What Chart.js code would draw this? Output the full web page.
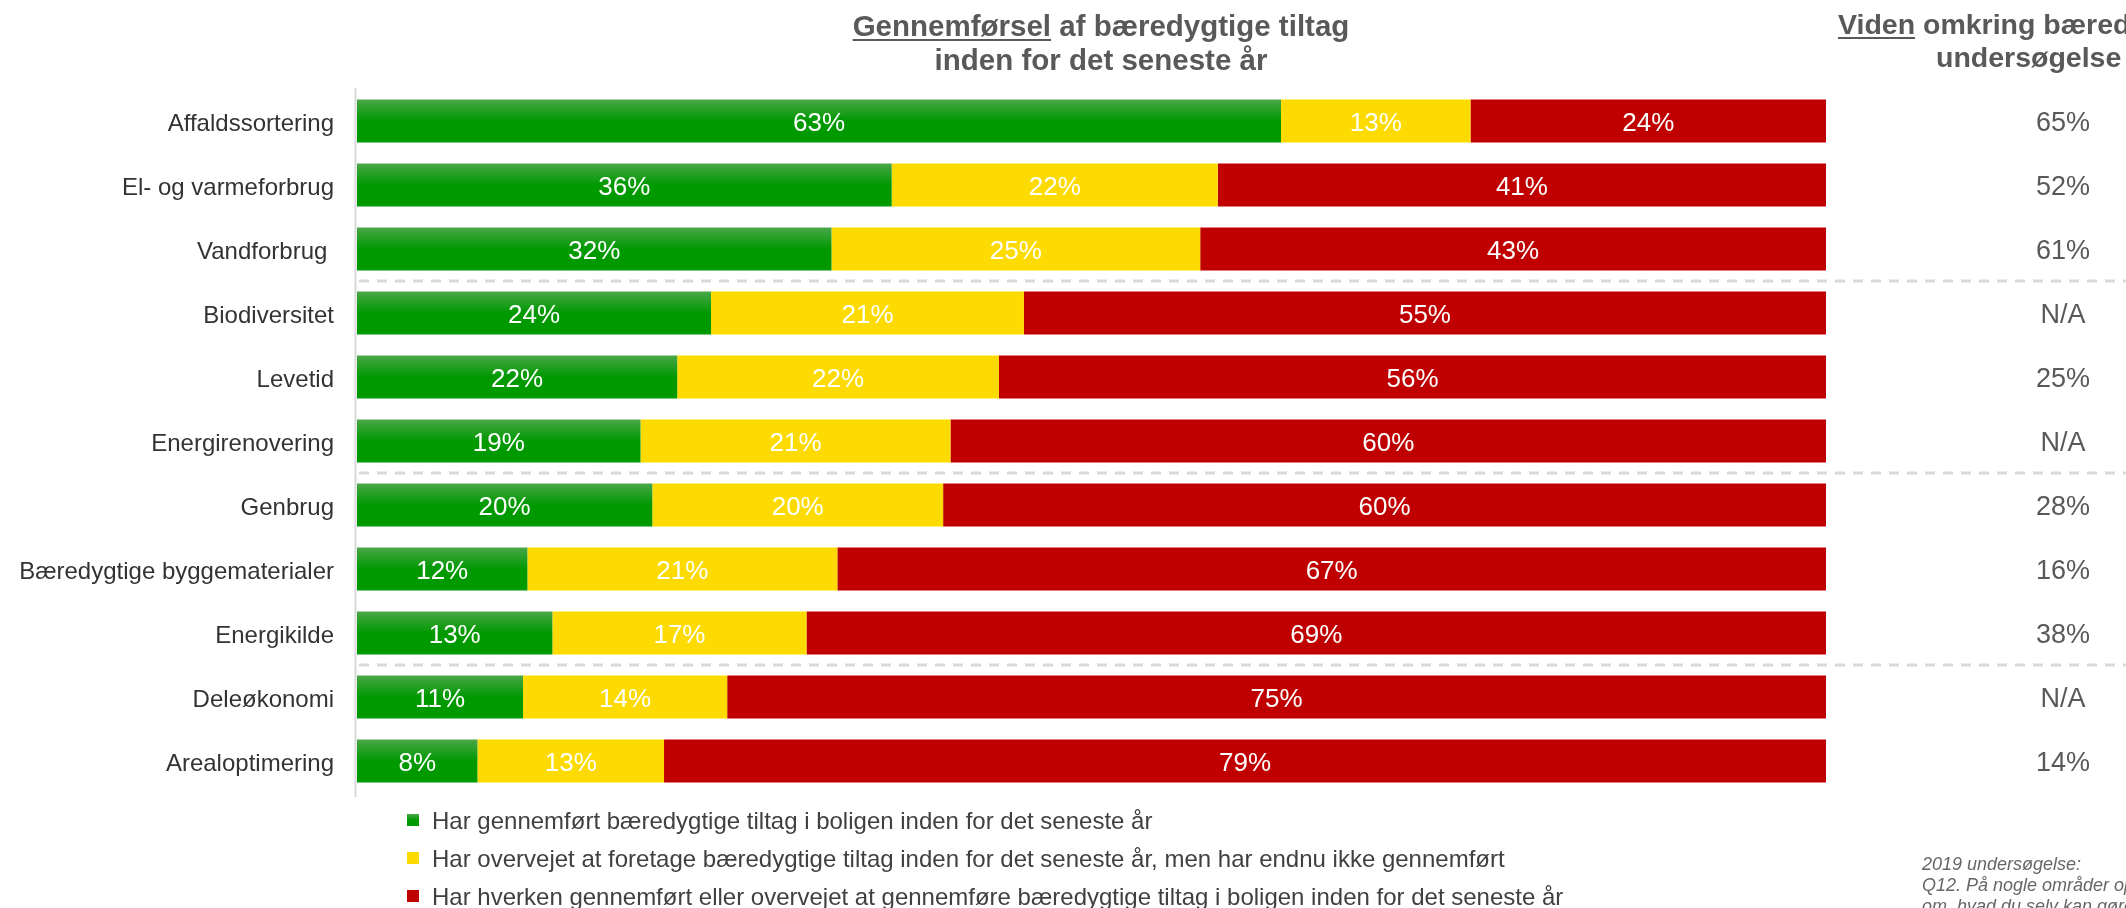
<!DOCTYPE html>
<html>
<head>
<meta charset="utf-8">
<script src="https://cdn.jsdelivr.net/npm/chart.js@4/dist/chart.umd.min.js"></script>
<style>
html,body{margin:0;padding:0;background:#fff;overflow:hidden;}
#wrap{width:2126px;height:908px;position:relative;}
</style>
</head>
<body>
<div id="wrap"><canvas id="c" width="2126" height="908"></canvas></div>
<script>
// ---- Data ----
const categories = [
  "Affaldssortering", "El- og varmeforbrug", "Vandforbrug ", "Biodiversitet", "Levetid",
  "Energirenovering", "Genbrug", "Bæredygtige byggematerialer", "Energikilde",
  "Deleøkonomi", "Arealoptimering"
];
const implemented = [62.9, 36.4, 32.3, 24.1, 21.8, 19.3, 20.1, 11.6, 13.3, 11.3, 8.2];
const considered  = [12.9, 22.2, 25.1, 21.3, 21.9, 21.1, 19.8, 21.1, 17.3, 13.9, 12.7];
const neither     = [24.2, 41.4, 42.6, 54.6, 56.3, 59.6, 60.1, 67.3, 69.4, 74.8, 79.1];
const knowledge2019 = ["65%", "52%", "61%", "N/A", "25%", "N/A", "28%", "16%", "38%", "N/A", "14%"];
const seriesLabels = [
  "Har gennemført bæredygtige tiltag i boligen inden for det seneste år",
  "Har overvejet at foretage bæredygtige tiltag inden for det seneste år, men har endnu ikke gennemført",
  "Har hverken gennemført eller overvejet at gennemføre bæredygtige tiltag i boligen inden for det seneste år"
];
const groupBreaks = [3, 6, 9];
const footnoteLines = [
  "2019 undersøgelse:",
  "Q12. På nogle områder oplever man at vide meget",
  "om, hvad du selv kan gøre for at leve bæredygtigt"
];

// ---- Styles ----
const FONT = '"Liberation Sans", Arial, Helvetica, sans-serif';
const GREEN = '#009900', YELLOW = '#FDDB00', RED = '#C00000';

function greenGradient(ctx, top, bottom) {
  const g = ctx.createLinearGradient(0, top, 0, bottom);
  g.addColorStop(0, '#4aa64a');
  g.addColorStop(0.5, GREEN);
  g.addColorStop(1, GREEN);
  return g;
}

const greenFill = (c) => {
  const chart = c.chart;
  const y = chart.scales && chart.scales.y;
  if (!chart.chartArea || !y || c.dataIndex === undefined) return GREEN;
  const yc = y.getPixelForValue(c.dataIndex);
  const h = y.getPixelForValue(1) - y.getPixelForValue(0);
  const bh = Math.abs(h) * 0.672;
  return greenGradient(chart.ctx, yc - bh / 2, yc + bh / 2);
};

const decorPlugin = {
  id: 'decor',
  beforeDatasetsDraw(chart) {
    const ctx = chart.ctx, y = chart.scales.y, a = chart.chartArea;
    ctx.save();
    // separators
    ctx.strokeStyle = '#d9d9d9';
    ctx.lineWidth = 3;
    ctx.setLineDash([10, 8]);
    groupBreaks.forEach(b => {
      const yy = Math.round((y.getPixelForValue(b - 1) + y.getPixelForValue(b)) / 2);
      ctx.beginPath();
      ctx.moveTo(a.left + 2, yy);
      ctx.lineTo(chart.width, yy);
      ctx.stroke();
    });
    ctx.setLineDash([]);
    // axis line
    ctx.strokeStyle = '#d9d9d9';
    ctx.lineWidth = 2;
    ctx.beginPath();
    ctx.moveTo(a.left - 1.5, a.top - 1);
    ctx.lineTo(a.left - 1.5, a.bottom + 4);
    ctx.stroke();
    ctx.restore();
  },
  afterDatasetsDraw(chart) {
    const ctx = chart.ctx, y = chart.scales.y;
    ctx.save();
    // value labels
    ctx.font = '26px ' + FONT;
    ctx.fillStyle = '#ffffff';
    ctx.textAlign = 'center';
    ctx.textBaseline = 'middle';
    chart.data.datasets.forEach((ds, di) => {
      chart.getDatasetMeta(di).data.forEach((bar, i) => {
        const v = ds.data[i];
        ctx.fillText(Math.round(v) + '%', (bar.x + bar.base) / 2, bar.y + 3);
      });
    });
    // right column values
    ctx.font = '27px ' + FONT;
    ctx.fillStyle = '#595959';
    knowledge2019.forEach((t, i) => {
      ctx.fillText(t, 2063, y.getPixelForValue(i) + 3);
    });
    // titles
    ctx.fillStyle = '#595959';
    ctx.strokeStyle = '#595959';
    ctx.textBaseline = 'alphabetic';
    ctx.textAlign = 'left';
    ctx.font = 'bold 29.5px ' + FONT;
    const drawUnderlined = (first, rest, x, base) => {
      ctx.fillText(first, x, base);
      const w1 = ctx.measureText(first).width;
      ctx.fillText(rest, x + w1, base);
      ctx.lineWidth = 2.2;
      ctx.beginPath();
      ctx.moveTo(x, base + 4);
      ctx.lineTo(x + w1, base + 4);
      ctx.stroke();
    };
    const t1a = 'Gennemførsel', t1b = ' af bæredygtige tiltag';
    const w1 = ctx.measureText(t1a + t1b).width;
    const cx = 1101;
    drawUnderlined(t1a, t1b, cx - w1 / 2, 36);
    ctx.textAlign = 'center';
    ctx.fillText('inden for det seneste år', cx, 70);
    ctx.textAlign = 'left';
    ctx.font = 'bold 28.5px ' + FONT;
    drawUnderlined('Viden', ' omkring bæredygtighed i', 1838, 34);
    ctx.fillText('undersøgelse', 1936, 67);
    // legend
    ctx.font = '24px ' + FONT;
    ctx.textBaseline = 'middle';
    const cols = [null, YELLOW, RED];
    seriesLabels.forEach((lab, i) => {
      const yc = 820 + i * 38;
      ctx.fillStyle = i === 0 ? greenGradient(ctx, yc - 6, yc + 6) : cols[i];
      ctx.fillRect(407, yc - 6, 12, 12);
      ctx.fillStyle = '#404040';
      ctx.fillText(lab, 432, yc + 2);
    });
    // footnote
    ctx.font = 'italic 18px ' + FONT;
    ctx.fillStyle = '#666666';
    ctx.textBaseline = 'alphabetic';
    footnoteLines.forEach((l, i) => ctx.fillText(l, 1922, 870 + i * 21));
    ctx.restore();
  }
};

new Chart(document.getElementById('c'), {
  type: 'bar',
  data: {
    labels: categories,
    datasets: [
      { label: seriesLabels[0], data: implemented, backgroundColor: greenFill },
      { label: seriesLabels[1], data: considered, backgroundColor: YELLOW },
      { label: seriesLabels[2], data: neither, backgroundColor: RED }
    ]
  },
  options: {
    indexAxis: 'y',
    responsive: false,
    animation: false,
    devicePixelRatio: 1,
    layout: { padding: { left: 0, right: 300, top: 89, bottom: 115 } },
    datasets: { bar: { categoryPercentage: 1, barPercentage: 0.672, borderWidth: 0 } },
    plugins: { legend: { display: false }, tooltip: { enabled: false }, title: { display: false } },
    scales: {
      x: { stacked: true, min: 0, max: 100, display: false },
      y: {
        stacked: true,
        grid: { display: false, drawTicks: false },
        border: { display: false },
        ticks: { color: '#333333', font: { family: FONT, size: 24 }, padding: 23, autoSkip: false, labelOffset: 3 },
        afterFit: (s) => { s.width = 357; }
      }
    }
  },
  plugins: [decorPlugin]
});
</script>
</body>
</html>
